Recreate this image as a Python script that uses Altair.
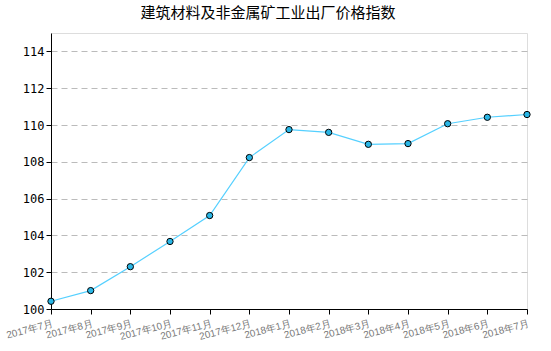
import altair as alt
import pandas as pd

months = ["2017年7月", "2017年8月", "2017年9月", "2017年10月", "2017年11月", "2017年12月",
          "2018年1月", "2018年2月", "2018年3月", "2018年4月", "2018年5月", "2018年6月", "2018年7月"]
values = [100.42, 101.0, 102.3, 103.67, 105.08, 108.23, 109.75, 109.6, 108.95, 108.99, 110.07, 110.42, 110.57]
y_ticks = [100, 102, 104, 106, 108, 110, 112, 114]

df = pd.DataFrame({"month": months, "value": values})

x = alt.X("month:N", sort=months, title=None,
          scale=alt.Scale(type="point", padding=0),
          axis=alt.Axis(labelAngle=-15, labelAlign="right", labelBaseline="top",
                        labelColor="#777777", labelFontSize=10, labelFont="Liberation Sans",
                        labelPadding=4, tickSize=5, tickColor="black", domainColor="black",
                        grid=False, labelOverlap=False))
y = alt.Y("value:Q", title=None,
          scale=alt.Scale(domain=[100, 115], nice=False, zero=False),
          axis=alt.Axis(values=y_ticks, labelColor="black", labelFontSize=12,
                        labelFont="DejaVu Sans Mono", tickSize=5, tickColor="black",
                        domainColor="black", grid=True, gridDash=[6, 4],
                        gridColor="#bbbbbb", labelPadding=2))

base = alt.Chart(df).encode(x=x, y=y)
line = base.mark_line(color="#55d0ff", strokeWidth=1.2)
pts = base.mark_point(filled=True, size=40, fill="#29b6e6", stroke="black",
                      strokeWidth=1, opacity=1, fillOpacity=1)

chart = (line + pts).properties(
    width=476, height=276,
    title=alt.TitleParams("建筑材料及非金属矿工业出厂价格指数", font="Noto Sans CJK SC",
                          fontSize=15, fontWeight="normal", color="black",
                          anchor="middle", offset=12, dx=-21),
    autosize=alt.AutoSizeParams(type="none"),
    padding={"left": 51, "top": 33, "right": 24, "bottom": 42},
).configure_view(stroke=None).configure(background="white")

chart.save("out.html", embed_options={"renderer": "svg", "actions": False})
